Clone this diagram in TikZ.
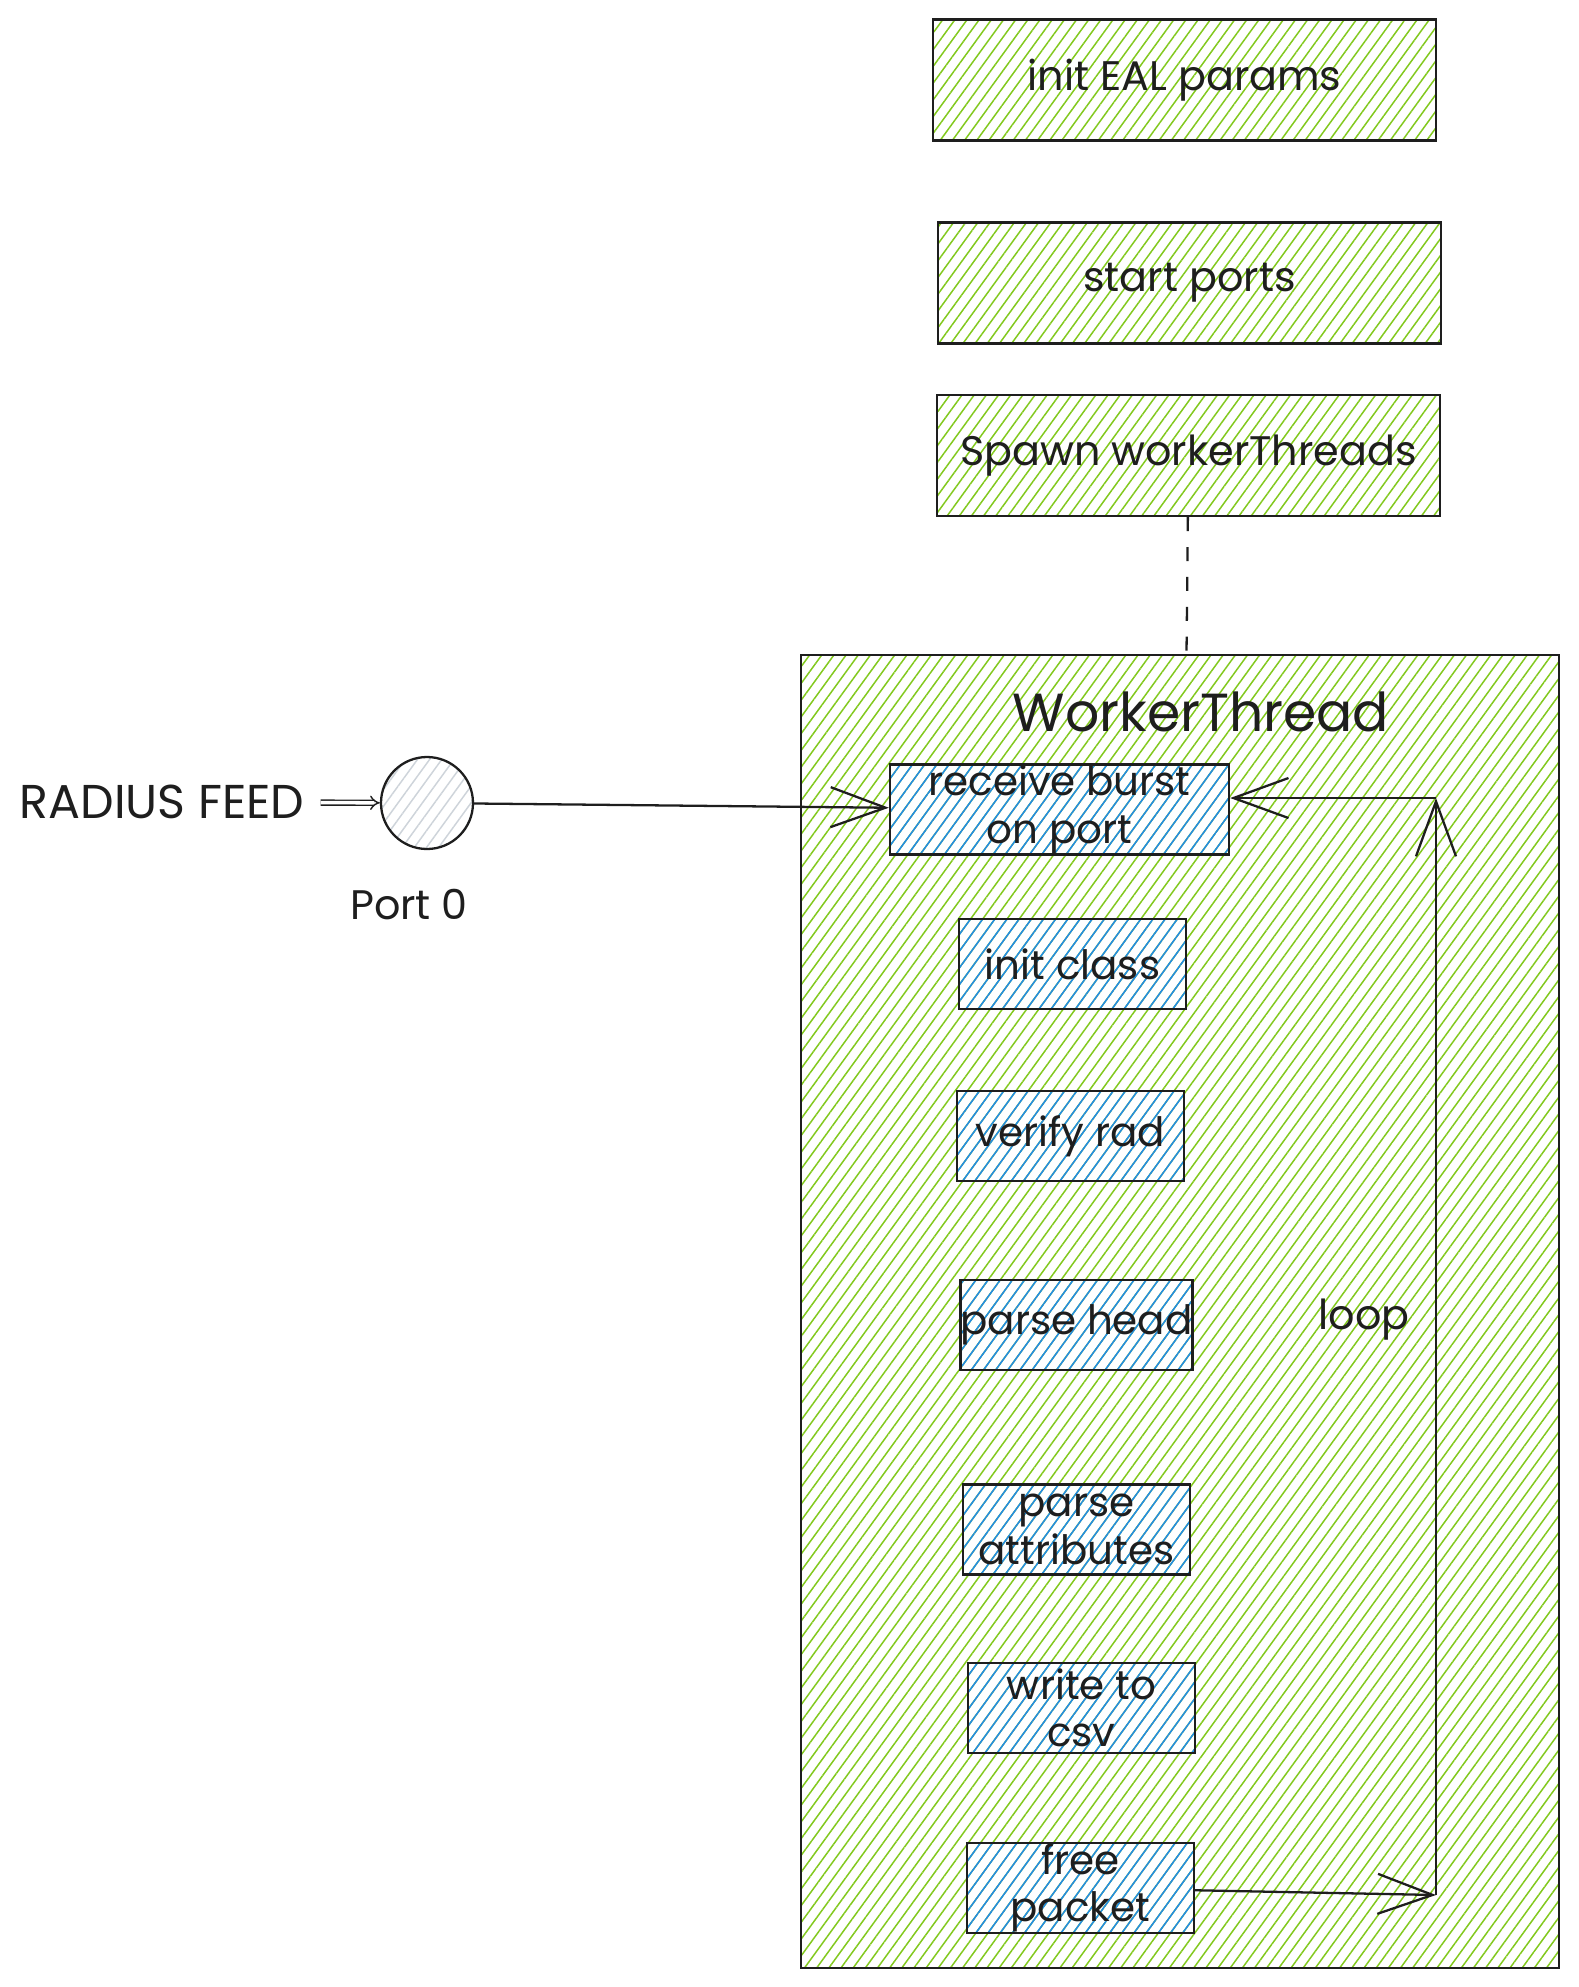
\documentclass[tikz,border=0pt]{standalone}
\usepackage{fontspec}
\setmainfont{Poppins}
\usepackage{tikz}
\usetikzlibrary{positioning,arrows.meta,patterns.meta}
\definecolor{hgreen}{HTML}{82C91E}
\definecolor{hblue}{HTML}{228BE6}
\definecolor{hgrey}{HTML}{CED4DA}
\definecolor{ink}{HTML}{1E1E1E}
\tikzset{
  hatch/.style   ={pattern={Lines[angle=54,distance=5.6pt,line width=0.85pt]}, pattern color=#1},
  stage/.style   ={draw=ink, line width=1.3pt, hatch=hgreen, minimum width=10.06cm, minimum height=2.42cm,
                   font=\fontsize{23.5}{28}\selectfont, text=ink, inner sep=0pt},
  group/.style   ={draw=ink, line width=1.3pt, hatch=hgreen, minimum width=15.16cm, minimum height=26.26cm, inner sep=0pt},
  task/.style    ={draw=ink, line width=1.3pt, hatch=hblue, minimum width=4.54cm, minimum height=1.8cm,
                   font=\fontsize{23}{27}\selectfont, text=ink, align=center, inner sep=0pt},
  portnode/.style={circle, draw=ink, line width=1.3pt, hatch=hgrey, minimum size=1.84cm, inner sep=0pt},
  lbl/.style     ={font=\fontsize{23.5}{28}\selectfont, text=ink},
  flowarr/.style ={-{Straight Barb[length=11mm,width=8mm]}, line width=1.3pt, draw=ink},
  feedarr/.style ={-{Implies}, double, double distance=2pt, line width=0.8pt, draw=ink},
  dashedarr/.style={line width=1.3pt, draw=ink, dash pattern=on 8pt off 9pt},
}
\begin{document}
\begin{tikzpicture}
\useasboundingbox (0,0) rectangle (31.58,-39.74);
% ---- setup stages
\node[stage] (eal)   at (23.69,-1.60) {init EAL params};
\node[stage] (ports) at (23.79,-5.66) {start ports};
\node[stage] (spawn) at (23.77,-9.11) {Spawn workerThreads};

% ---- worker thread
\node[group] (wt) at (23.60,-26.23) {};
\node[font=\fontsize{30.5}{34}\selectfont, text=ink] (wttitle) at (24.02,-14.24) {WorkerThread};
\node[task, minimum width=6.78cm] (recv) at (21.19,-16.19) {receive burst\\on port};
\node[task] (cls)   at (21.45,-19.28) {init class};
\node[task] (rad)   at (21.41,-22.72) {verify rad};
\node[task] (head)  at (21.53,-26.50) {parse head};
\node[task] (attr)  at (21.53,-30.59) {parse\\attributes};
\node[task] (csv)   at (21.63,-34.16) {write to\\csv};
\node[task] (free)  at (21.61,-37.76) {free\\packet};
\node[lbl] (looplbl) at (27.28,-26.40) {loop};

% ---- input port
\node[portnode] (port0) at (8.54,-16.06) {};
\node[lbl, below=6.5mm of port0, xshift=-3.6mm] (portlbl) {Port 0};
\node[lbl, font=\fontsize{27}{30}\selectfont] (feed) at (3.24,-16.04) {RADIUS FEED};

% ---- connectors
\coordinate (loopbot) at (28.72,-37.90);
\coordinate (looptop) at (28.72,-15.96);
\draw[dashedarr] (spawn) -- (wt);
\draw[feedarr, shorten <=2mm] (feed) -- (port0);
\draw[flowarr] (port0) -- (recv);
\draw[flowarr] (free) -- (loopbot);
\draw[flowarr] (loopbot) -- (looptop);
\draw[flowarr] (looptop) -- (recv.east |- looptop);
\end{tikzpicture}
\end{document}
